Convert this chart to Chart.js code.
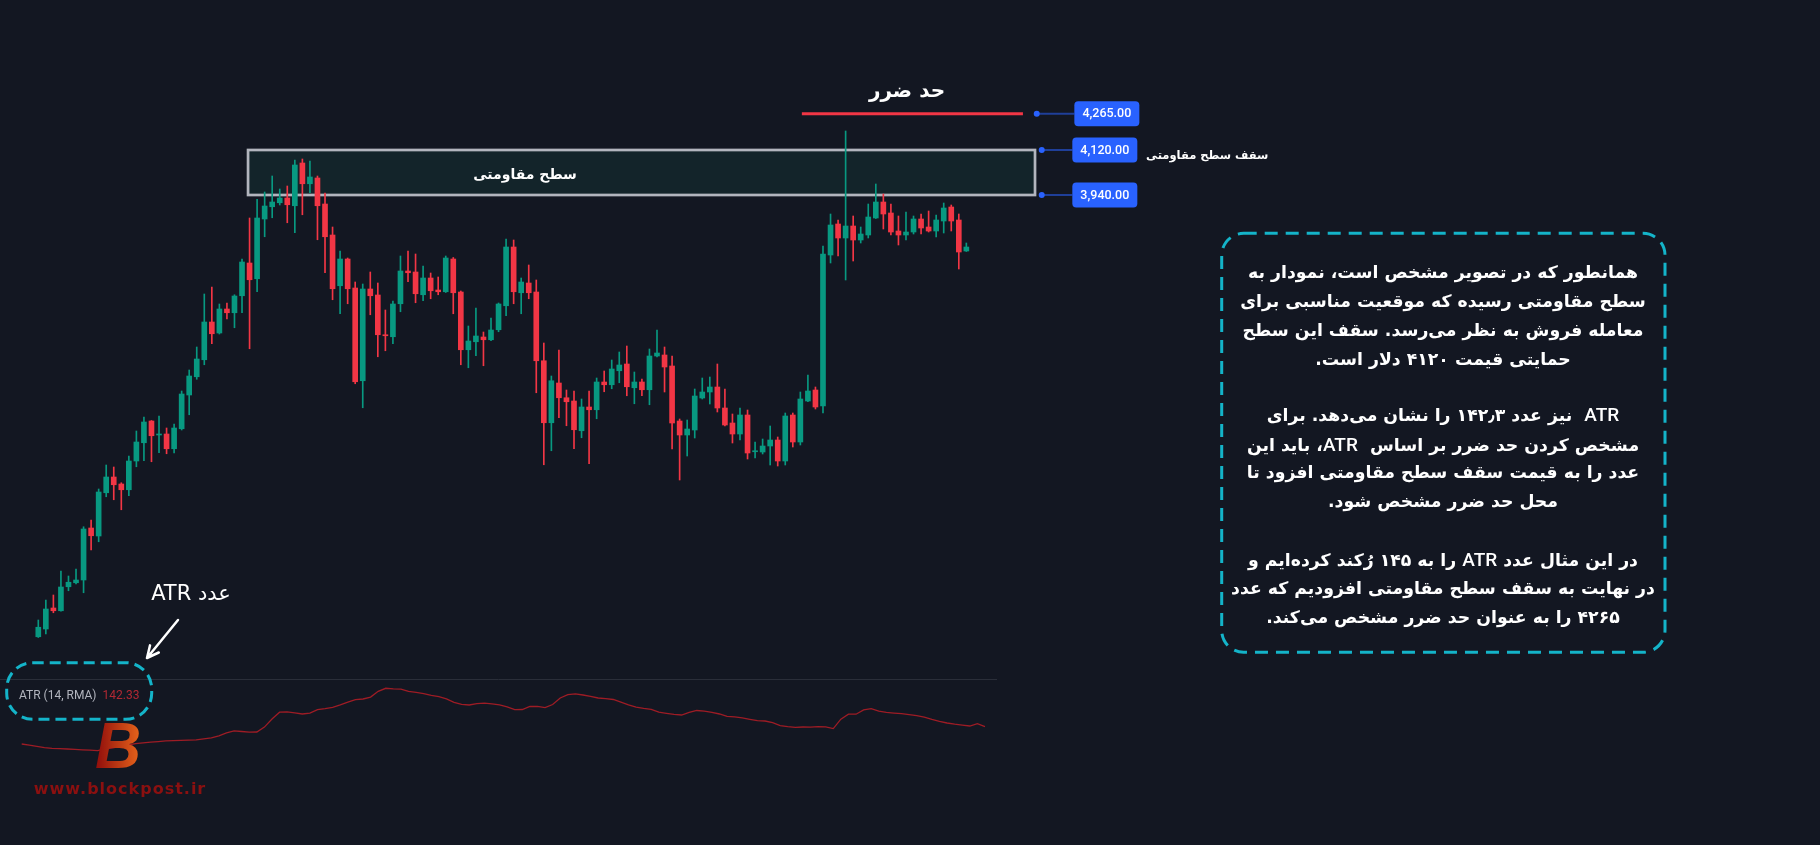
<!DOCTYPE html>
<html lang="fa">
<head>
<meta charset="UTF-8">
<title>حد ضرر بر اساس ATR</title>
<script src="https://cdn.jsdelivr.net/npm/chart.js"></script>
<style>
    body {
        margin: 0;
        background: #131722;
        overflow: hidden;
        font-family: "DejaVu Sans", sans-serif;
    }
    #wrap {
        position: relative;
        width: 1820px;
        height: 845px;
    }
    canvas {
        position: absolute;
        left: 0;
        top: 0;
    }
    .c {
        position: absolute;
        transform: translate(-50%, -50%);
        white-space: nowrap;
        color: #fff;
        line-height: 1;
    }
    .fa { direction: rtl; }
    .note { font-weight: bold; font-size: 17.3px; }
    .note b { font-family: Roboto, sans-serif; font-weight: 500; font-size: 19px; }
    .ceiling {
        position: absolute;
        left: 1146px;
        top: 147px;
        direction: rtl;
        white-space: nowrap;
        color: #fff;
        font-weight: bold;
        font-size: 11.5px;
        line-height: 16px;
    }
    .atr-label {
        position: absolute;
        left: 19px;
        top: 688px;
        font-family: Roboto, sans-serif;
        font-size: 12px;
        color: #B2B5BE;
        white-space: nowrap;
    }
    .atr-label span { color: #B22833; margin-left: 6px; }
    .logo {
        font-family: "Liberation Sans", sans-serif;
        font-weight: bold;
        font-style: italic;
        font-size: 64px;
        background: linear-gradient(90deg, #8E0B0B, #E8661B);
        -webkit-background-clip: text;
        background-clip: text;
        color: transparent;
    }
    .site {
        font-weight: bold;
        font-size: 16px;
        letter-spacing: 1px;
        color: #8B1010;
    }
</style>
</head>
<body>
<div id="wrap">
    <canvas id="chart" width="1820" height="845"></canvas>

    <div class="c fa" style="left:907px; top:90px; font-weight:bold; font-size:20px;">حد ضرر</div>
    <div class="c fa" style="left:525px; top:174px; font-weight:bold; font-size:14px;">سطح مقاومتی</div>
    <div class="ceiling">سقف سطح مقاومتی</div>

    <div class="c fa note" style="left:1443px; top:273px;">همانطور که در تصویر مشخص است، نمودار به</div>
    <div class="c fa note" style="left:1443px; top:302px;">سطح مقاومتی رسیده که موقعیت مناسبی برای</div>
    <div class="c fa note" style="left:1443px; top:331px;">معامله فروش به نظر می‌رسد. سقف این سطح</div>
    <div class="c fa note" style="left:1443px; top:360px;">حمایتی قیمت ۴۱۲۰ دلار است.</div>
    <div class="c fa note" style="left:1443px; top:415px;"><b>ATR</b>&nbsp; نیز عدد ۱۴۲٫۳ را نشان می‌دهد. برای</div>
    <div class="c fa note" style="left:1443px; top:445px;">مشخص کردن حد ضرر بر اساس&nbsp; <b>ATR</b>، باید این</div>
    <div class="c fa note" style="left:1443px; top:473px;">عدد را به قیمت سقف سطح مقاومتی افزود تا</div>
    <div class="c fa note" style="left:1443px; top:502px;">محل حد ضرر مشخص شود.</div>
    <div class="c fa note" style="left:1443px; top:560px;">در این مثال عدد <b>ATR</b> را به ۱۴۵ رُکند کرده‌ایم و</div>
    <div class="c fa note" style="left:1443px; top:589px;">در نهایت به سقف سطح مقاومتی افزودیم که عدد</div>
    <div class="c fa note" style="left:1443px; top:618px;">۴۲۶۵ را به عنوان حد ضرر مشخص می‌کند.</div>

    <div class="c fa" style="left:191px; top:593px; font-size:21px;">عدد ATR</div>
    <div class="atr-label">ATR (14, RMA)<span>142.33</span></div>

    <div class="c logo" style="left:118px; top:746px;">B</div>
    <div class="c site" style="left:120px; top:789px;">www.blockpost.ir</div>
</div>

<script>
    // daily candles
    const opens = [
        2173, 2204, 2288, 2277, 2373, 2389, 2400, 2608, 2576, 2749,
        2812, 2784, 2761, 2876, 2949, 3036, 2980, 2984, 2925, 3005,
        3140, 3213, 3281, 3432, 3388, 3484, 3469, 3537, 3668, 3605,
        3844, 3893, 3909, 3928, 3897, 4068, 3985, 4008, 3904, 3780,
        3577, 3684, 3568, 3197, 3564, 3540, 3380, 3373, 3505, 3636,
        3632, 3541, 3608, 3560, 3553, 3684, 3552, 3321, 3353, 3372,
        3361, 3401, 3497, 3732, 3549, 3588, 3552, 3277, 3029, 3188,
        3129, 3116, 2997, 3092, 3081, 3192, 3181, 3237, 3264, 3169,
        3192, 3161, 3296, 3300, 3256, 3036, 2980, 3000, 3128, 3152,
        3172, 3088, 3028, 2984, 3060, 2913, 2912, 2936, 2960, 2876,
        3060, 2952, 3116, 3160, 3096, 3700, 3824, 3768, 3816, 3760,
        3780, 3848, 3912, 3868, 3796, 3780, 3792, 3844, 3812, 3796,
        3836, 3892, 3840, 3716
    ];
    const highs = [
        2240, 2320, 2340, 2436, 2416, 2444, 2613, 2640, 2764, 2860,
        2852, 2789, 2896, 2996, 3052, 3038, 3056, 3008, 3024, 3156,
        3240, 3332, 3544, 3572, 3504, 3508, 3541, 3684, 3848, 3923,
        3952, 4016, 3964, 3976, 4080, 4084, 4076, 4016, 3948, 3812,
        3716, 3688, 3592, 3584, 3632, 3588, 3480, 3516, 3696, 3716,
        3704, 3656, 3628, 3612, 3696, 3690, 3556, 3416, 3488, 3392,
        3448, 3508, 3764, 3760, 3608, 3660, 3600, 3348, 3216, 3320,
        3160, 3156, 3124, 3156, 3208, 3236, 3280, 3312, 3336, 3232,
        3204, 3324, 3400, 3332, 3296, 3044, 3040, 3164, 3208, 3212,
        3264, 3164, 3064, 3088, 3080, 2952, 2964, 3016, 2972, 3068,
        3068, 3152, 3220, 3172, 3736, 3864, 3840, 4196, 3856, 3812,
        3904, 3984, 3944, 3904, 3856, 3872, 3856, 3864, 3876, 3860,
        3908, 3900, 3864, 3748
    ];
    const lows = [
        2170, 2184, 2269, 2275, 2357, 2384, 2349, 2520, 2553, 2733,
        2721, 2681, 2737, 2853, 2877, 2873, 2909, 2905, 2908, 3000,
        3061, 3203, 3261, 3345, 3384, 3444, 3409, 3469, 3325, 3553,
        3773, 3849, 3900, 3829, 3789, 3861, 3949, 3761, 3629, 3521,
        3465, 3505, 3185, 3089, 3461, 3293, 3317, 3345, 3473, 3593,
        3509, 3517, 3525, 3541, 3550, 3465, 3261, 3249, 3297, 3257,
        3357, 3393, 3457, 3505, 3465, 3525, 3149, 2861, 2917, 3049,
        3017, 2925, 2969, 2865, 3045, 3153, 3165, 3189, 3137, 3105,
        3137, 3101, 3292, 3152, 2924, 2800, 2896, 2968, 3124, 3104,
        3072, 3016, 2948, 2960, 2884, 2888, 2904, 2860, 2856, 2860,
        2932, 2940, 3113, 3084, 3068, 3668, 3696, 3600, 3676, 3748,
        3768, 3846, 3804, 3780, 3740, 3760, 3784, 3784, 3792, 3772,
        3788, 3796, 3644, 3714
    ];
    const closes = [
        2211, 2284, 2277, 2372, 2391, 2400, 2604, 2577, 2752, 2812,
        2781, 2761, 2876, 2952, 3032, 2977, 2983, 2925, 3008, 3144,
        3216, 3284, 3432, 3385, 3484, 3469, 3536, 3672, 3601, 3848,
        3896, 3912, 3928, 3901, 4060, 3985, 4012, 3897, 3773, 3565,
        3684, 3565, 3193, 3564, 3537, 3381, 3377, 3504, 3636, 3629,
        3545, 3608, 3557, 3553, 3688, 3549, 3321, 3356, 3376, 3361,
        3400, 3504, 3732, 3553, 3592, 3549, 3277, 3029, 3197, 3129,
        3113, 3001, 3092, 3081, 3192, 3181, 3244, 3260, 3173, 3192,
        3161, 3296, 3308, 3252, 3028, 2980, 3004, 3136, 3152, 3172,
        3088, 3020, 2984, 3060, 2908, 2916, 2936, 2960, 2876, 3056,
        2952, 3124, 3156, 3092, 3704, 3820, 3768, 3816, 3760, 3784,
        3852, 3912, 3864, 3792, 3780, 3792, 3844, 3808, 3796, 3840,
        3888, 3836, 3712, 3732
    ];
    const candleIndex = opens.map((_, i) => i + 1);

    // ATR (14, RMA) pane
    const atrValues = [
        99.1, 96.1, 92.9, 89.9, 88.1, 87.3, 86.6, 85.6, 84.6, 83.6,
        82.3, 86.1, 89.6, 93.1, 96.6, 99.8, 101.9, 103.6, 105.1, 106.8,
        107.6, 108.1, 108.6, 109.4, 112.1, 114.6, 119.6, 127.1, 131.8, 130.3,
        128.6, 129.1, 141.3, 161.6, 178.6, 179.3, 176.9, 174.1, 176.1, 184.9,
        187.4, 190.6, 196.9, 203.9, 210.1, 211.6, 216.4, 230.9, 238.4, 236.9,
        236.3, 230.6, 227.9, 224.9, 220.8, 217.6, 211.8, 203.4, 198.1, 196.6,
        199.9, 201.1, 199.6, 197.1, 191.9, 185.1, 185.4, 192.9, 193.1, 189.9,
        197.9, 214.1, 222.4, 224.4, 221.6, 218.1, 214.1, 212.6, 210.4, 203.9,
        197.1, 191.1, 187.9, 185.4, 178.6, 175.9, 173.1, 171.6, 177.9, 182.9,
        181.1, 178.1, 174.1, 168.3, 166.8, 164.6, 160.9, 157.6, 156.6, 152.4,
        144.9, 142.6, 140.9, 141.6, 141.4, 142.6, 141.9, 137.6, 161.1, 173.6,
        173.6, 184.4, 187.4, 181.4, 178.1, 176.4, 174.9, 172.6, 169.9, 166.4,
        160.9, 155.9, 151.6, 148.6, 146.3, 144.1, 149.9, 142.33
    ];
    const atrIndex = atrValues.map((_, i) => i);

    // drawn levels
    const levelValues = [4265, 4120, 3940];
    const levelDotX = [133.33, 133.99, 133.99];
    const stopLoss = 4265;
    const stopRange = [102.2, 131.5];
    const resistanceTop = 4120;
    const resistanceBottom = 3940;
    const boxRange = [28.8, 133.1];

    const UP = '#089981';
    const DOWN = '#F23645';
    const candleColors = opens.map((o, i) => closes[i] >= o ? UP : DOWN);

    const drawings = {
        id: 'drawings',
        beforeDatasetsDraw(chart) {
            const { ctx, scales: { x, y } } = chart;
            ctx.save();
            // pane separator
            ctx.strokeStyle = '#2A2E39';
            ctx.lineWidth = 1;
            ctx.beginPath();
            ctx.moveTo(0, 679.5);
            ctx.lineTo(997, 679.5);
            ctx.stroke();

            // resistance zone
            const x0 = x.getPixelForValue(boxRange[0]);
            const x1 = x.getPixelForValue(boxRange[1]);
            const y0 = y.getPixelForValue(resistanceTop);
            const y1 = y.getPixelForValue(resistanceBottom);
            ctx.fillStyle = '#13242A';
            ctx.fillRect(x0, y0, x1 - x0, y1 - y0);
            ctx.strokeStyle = '#B2B5BE';
            ctx.lineWidth = 2.7;
            ctx.strokeRect(x0, y0, x1 - x0, y1 - y0);
            ctx.restore();
        },
        afterDatasetsDraw(chart) {
            const { ctx, scales: { x, y } } = chart;
            ctx.save();

            // stop loss line
            const sy = y.getPixelForValue(stopLoss);
            ctx.strokeStyle = '#F23645';
            ctx.lineWidth = 3;
            ctx.beginPath();
            ctx.moveTo(x.getPixelForValue(stopRange[0]), sy);
            ctx.lineTo(x.getPixelForValue(stopRange[1]), sy);
            ctx.stroke();

            // price labels
            const gaps = [37.6, 30.6, 30.6];
            levelValues.forEach((v, i) => {
                const py = y.getPixelForValue(v);
                const dx = x.getPixelForValue(levelDotX[i]);
                const px = dx + gaps[i];
                ctx.strokeStyle = '#1F3F99';
                ctx.lineWidth = 2;
                ctx.beginPath();
                ctx.moveTo(dx, py);
                ctx.lineTo(px, py);
                ctx.stroke();
                ctx.fillStyle = '#2962FF';
                ctx.beginPath();
                ctx.arc(dx, py, 3, 0, Math.PI * 2);
                ctx.fill();
                ctx.beginPath();
                ctx.roundRect(px, py - 12.5, 65, 25, 4);
                ctx.fill();
                ctx.fillStyle = '#fff';
                ctx.font = '500 12.5px Roboto, sans-serif';
                ctx.textAlign = 'center';
                ctx.textBaseline = 'middle';
                ctx.fillText(v.toLocaleString('en-US', { minimumFractionDigits: 2 }), px + 32.5, py + 0.5);
            });

            // dashed frames
            ctx.strokeStyle = '#14B4C9';
            ctx.lineWidth = 3;
            ctx.setLineDash([13, 8]);
            ctx.beginPath();
            ctx.roundRect(1221.7, 233.3, 443.3, 419, 22);
            ctx.stroke();
            ctx.setLineDash([11, 6]);
            ctx.beginPath();
            ctx.roundRect(6.7, 662.7, 145, 56.6, 26);
            ctx.stroke();
            ctx.setLineDash([]);

            // arrow to the ATR value
            ctx.strokeStyle = '#fff';
            ctx.lineWidth = 2.5;
            ctx.lineCap = 'round';
            const tx = 147, ty = 658, fx = 178, fy = 620;
            const a = Math.atan2(ty - fy, tx - fx);
            ctx.beginPath();
            ctx.moveTo(fx, fy);
            ctx.lineTo(tx, ty);
            ctx.moveTo(tx, ty);
            ctx.lineTo(tx - 13 * Math.cos(a - 0.45), ty - 13 * Math.sin(a - 0.45));
            ctx.moveTo(tx, ty);
            ctx.lineTo(tx - 13 * Math.cos(a + 0.45), ty - 13 * Math.sin(a + 0.45));
            ctx.stroke();
            ctx.restore();
        }
    };

    const ctx = document.getElementById('chart').getContext('2d');
    new Chart(ctx, {
        type: 'bar',
        data: {
            datasets: [
                {
                    label: 'wicks',
                    data: candleIndex.map((c, i) => ({ x: c, y: [lows[i], highs[i]] })),
                    backgroundColor: candleColors,
                    barThickness: 1,
                    grouped: false,
                    order: 3
                },
                {
                    label: 'bodies',
                    data: candleIndex.map((c, i) => ({ x: c, y: [opens[i], closes[i]] })),
                    backgroundColor: candleColors,
                    barThickness: 5,
                    minBarLength: 1,
                    grouped: false,
                    order: 2
                },
                {
                    type: 'line',
                    label: 'ATR',
                    data: atrIndex.map((k, i) => ({ x: k, y: atrValues[i] })),
                    xAxisID: 'xa',
                    yAxisID: 'ya',
                    borderColor: '#9E1C25',
                    borderWidth: 1.3,
                    pointRadius: 0,
                    tension: 0,
                    order: 1
                }
            ]
        },
        options: {
            responsive: false,
            animation: false,
            events: [],
            layout: { padding: 0 },
            plugins: {
                legend: { display: false },
                tooltip: { enabled: false }
            },
            scales: {
                x: { type: 'linear', offset: false, min: -4.076, max: 237.14, display: false },
                y: { min: 1340, max: 4720, display: false },
                xa: { type: 'linear', offset: false, position: 'bottom', min: -2.861, max: 237.09, display: false },
                ya: { min: -153.4, max: 1959.1, display: false }
            }
        },
        plugins: [drawings]
    });
</script>
</body>
</html>
